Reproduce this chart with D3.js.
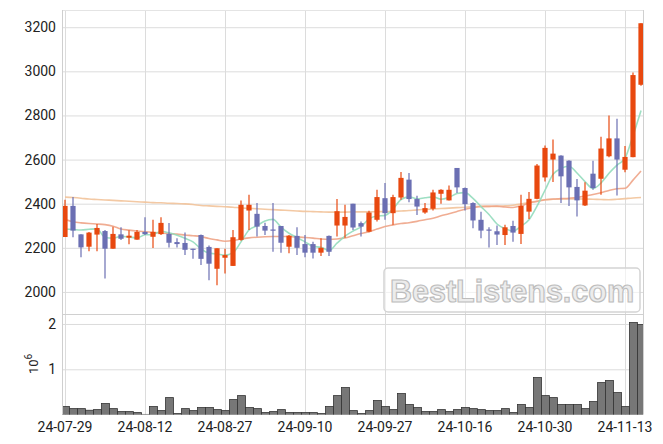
<!DOCTYPE html>
<html><head><meta charset="utf-8">
<script src="https://cdn.jsdelivr.net/npm/d3@7/dist/d3.min.js"></script>
<style>html,body{margin:0;padding:0;background:#fff;}svg{display:block;font-family:Roboto,"DejaVu Sans",sans-serif;}</style>
</head><body><svg id="c" width="663" height="444"></svg>
<script>
const dateTicks = ["24-07-29","24-08-12","24-08-27","24-09-10","24-09-27","24-10-16","24-10-30","24-11-13"];
const priceTicks = [2000,2200,2400,2600,2800,3000,3200];
const volTicks = [1,2];
const openP = [2249,2390,2261,2205,2260,2276,2196,2261,2246,2237,2272,2250,2262,2263,2226,2222,2196,2258,2204,2105,2155,2118,2236,2369,2354,2299,2283,2299,2205,2254,2217,2217,2178,2254,2301,2301,2400,2312,2273,2327,2425,2357,2428,2509,2421,2360,2377,2445,2415,2562,2471,2403,2327,2283,2275,2258,2299,2263,2364,2422,2519,2600,2618,2595,2476,2392,2536,2513,2615,2696,2554,2611,2939];
const highP = [2418,2430,2262,2272,2308,2281,2296,2293,2280,2281,2339,2327,2339,2312,2243,2269,2196,2260,2210,2198,2196,2281,2415,2441,2403,2314,2403,2299,2258,2293,2258,2228,2243,2256,2421,2395,2400,2319,2368,2463,2494,2440,2544,2539,2436,2403,2463,2466,2482,2562,2473,2406,2364,2293,2301,2304,2323,2441,2453,2580,2664,2691,2620,2597,2512,2497,2595,2703,2800,2785,2661,2995,3218];
const lowP = [2249,2248,2157,2184,2184,2061,2196,2236,2216,2237,2258,2199,2258,2202,2202,2167,2150,2122,2053,2030,2084,2118,2232,2281,2251,2258,2182,2178,2175,2167,2157,2152,2163,2163,2251,2246,2281,2251,2270,2319,2327,2304,2418,2407,2349,2354,2369,2400,2415,2448,2369,2289,2243,2202,2213,2213,2228,2217,2331,2420,2501,2498,2403,2390,2342,2390,2463,2441,2610,2437,2542,2611,2935];
const closeP = [2390,2278,2202,2269,2290,2196,2263,2241,2255,2272,2262,2272,2313,2223,2217,2191,2193,2150,2128,2198,2167,2248,2395,2395,2296,2278,2280,2223,2255,2200,2178,2178,2200,2182,2366,2340,2292,2296,2360,2430,2357,2430,2517,2421,2387,2380,2451,2463,2463,2474,2398,2324,2278,2280,2260,2293,2269,2390,2422,2573,2653,2627,2524,2474,2415,2459,2471,2650,2696,2600,2612,2983,3218];
const volume = [0.177,0.132,0.132,0.096,0.110,0.243,0.132,0.066,0.066,0.044,0.005,0.177,0.088,0.375,0.022,0.132,0.088,0.155,0.155,0.110,0.088,0.331,0.419,0.155,0.132,0.044,0.066,0.110,0.044,0.044,0.044,0.044,0.022,0.177,0.419,0.596,0.088,0.022,0.088,0.309,0.177,0.110,0.464,0.221,0.155,0.066,0.066,0.110,0.066,0.110,0.155,0.132,0.110,0.088,0.088,0.132,0.044,0.221,0.155,0.817,0.419,0.375,0.221,0.221,0.221,0.132,0.287,0.706,0.751,0.486,0.177,2.031,1.987];
const ma5 = [2285,2283,2281,2284,2286,2247,2244,2252,2249,2245,2259,2260,2275,2268,2257,2243,2227,2195,2176,2172,2167,2178,2227,2281,2300,2322,2329,2294,2266,2247,2227,2207,2202,2188,2221,2253,2276,2295,2331,2344,2347,2375,2419,2431,2422,2427,2431,2420,2429,2446,2450,2424,2387,2351,2308,2287,2276,2298,2327,2389,2461,2533,2560,2570,2539,2500,2469,2494,2538,2575,2606,2708,2822];
const ma20 = [2328,2318,2313,2310,2308,2305,2298,2285,2280,2276,2273,2270,2267,2264,2262,2258,2255,2251,2242,2236,2230,2233,2240,2245,2248,2250,2251,2251,2251,2249,2247,2244,2240,2238,2240,2245,2255,2265,2273,2285,2297,2304,2310,2314,2320,2327,2334,2345,2354,2365,2375,2382,2387,2388,2389,2385,2383,2390,2403,2410,2418,2421,2423,2425,2428,2435,2442,2450,2460,2468,2470,2507,2548];
const ma60 = [2430,2428,2425,2421,2419,2417,2415,2413,2411,2409,2407,2405,2404,2402,2401,2399,2396,2392,2390,2388,2386,2384,2381,2379,2377,2375,2373,2371,2369,2367,2365,2364,2363,2362,2362,2362,2363,2363,2363,2364,2364,2365,2367,2369,2372,2374,2376,2378,2380,2382,2384,2386,2388,2388,2388,2390,2393,2398,2405,2412,2418,2420,2421,2422,2422,2421,2420,2419,2418,2420,2423,2426,2428];

const svg = d3.select("#c");
const L = 62, R = 643, PT = 10, PB = 314, VT = 314, VB = 414.6;
const n = closeP.length;
const x = d3.scaleLinear().domain([-0.375, n - 1 + 0.25]).range([L, R]);
const y = d3.scaleLinear().domain([1900, 3278]).range([PB, PT]);
const yv = d3.scaleLinear().domain([0, 2.22e6]).range([VB, VT]);
const idx = d3.range(n);
const tickIdx = dateTicks.map((d, k) => k * 10);
const UP = "#e8480f", DOWN = "#6b6fb3";

svg.append("defs").append("clipPath").attr("id", "clipP")
  .append("rect").attr("x", L).attr("y", PT).attr("width", R - L).attr("height", PB - PT);
svg.select("defs").append("clipPath").attr("id", "clipV")
  .append("rect").attr("x", L).attr("y", VT).attr("width", R - L).attr("height", VB - VT);

const grid = svg.append("g").attr("stroke", "#dcdcdc").attr("stroke-width", 1);
// horizontal grid price
svg.append("g").attr("transform", `translate(${L},0)`)
  .call(d3.axisLeft(y).tickValues(priceTicks).tickSize(-(R - L)).tickFormat(""))
  .call(g => { g.select(".domain").remove(); g.selectAll("line").attr("stroke", "#dcdcdc"); });
svg.append("g").attr("transform", `translate(${L},0)`)
  .call(d3.axisLeft(yv).tickValues(volTicks.map(v => v * 1e6)).tickSize(-(R - L)).tickFormat(""))
  .call(g => { g.select(".domain").remove(); g.selectAll("line").attr("stroke", "#dcdcdc"); });
// vertical grid
svg.append("g").attr("transform", `translate(0,${VB})`)
  .call(d3.axisBottom(x).tickValues(tickIdx).tickSize(-(VB - PT)).tickFormat(""))
  .call(g => { g.select(".domain").remove(); g.selectAll("line").attr("stroke", "#dcdcdc"); });

// frame lines
svg.append("line").attr("x1", L).attr("x2", R).attr("y1", VT + 0.5).attr("y2", VT + 0.5).attr("stroke", "#d0d0d0");
svg.append("line").attr("x1", L).attr("x2", R).attr("y1", PT + 0.5).attr("y2", PT + 0.5).attr("stroke", "#e4e4e4");
svg.append("line").attr("x1", R + 0.5).attr("x2", R + 0.5).attr("y1", PT).attr("y2", VB).attr("stroke", "#d0d0d0");

// watermark
const wm = svg.append("g");
wm.append("rect").attr("x", 384).attr("y", 268).attr("width", 256).attr("height", 44).attr("rx", 4)
  .attr("fill", "#ffffff").attr("fill-opacity", 0.6).attr("stroke", "#d4d4d4").attr("stroke-width", 1.5);
wm.append("text").attr("x", 512).attr("y", 302).attr("text-anchor", "middle")
  .attr("font-family", "'Liberation Sans', Arial, sans-serif").attr("font-weight", "bold").attr("font-size", 32)
  .attr("textLength", 244).attr("lengthAdjust", "spacingAndGlyphs")
  .attr("fill", "#ececec").attr("stroke", "#bdbdbd").attr("stroke-width", 1.2).text("BestListens.com");

// moving averages
const lineGen = arr => d3.line().x((d, i) => x(i)).y(d => y(d)).curve(d3.curveMonotoneX)(arr);
const maG = svg.append("g").attr("clip-path", "url(#clipP)").attr("fill", "none");
maG.append("path").attr("d", lineGen(ma60)).attr("stroke", "#f2c39a").attr("stroke-width", 1.6).attr("opacity", 0.9);
maG.append("path").attr("d", lineGen(ma20)).attr("stroke", "#eea487").attr("stroke-width", 1.6).attr("opacity", 0.9);
maG.append("path").attr("d", lineGen(ma5)).attr("stroke", "#94dcbc").attr("stroke-width", 1.6).attr("opacity", 0.9);

// candles
const cg = svg.append("g").attr("clip-path", "url(#clipP)");
const c = cg.selectAll("g.c").data(idx).join("g").attr("class", "c");
c.append("line").attr("x1", i => x(i)).attr("x2", i => x(i))
  .attr("y1", i => y(highP[i])).attr("y2", i => y(lowP[i]))
  .attr("stroke", i => closeP[i] >= openP[i] ? UP : DOWN).attr("stroke-width", 1.2);
c.append("rect").attr("x", i => x(i) - 2.6).attr("width", 5.2)
  .attr("y", i => y(Math.max(openP[i], closeP[i])))
  .attr("height", i => Math.max(1.2, Math.abs(y(openP[i]) - y(closeP[i]))))
  .attr("fill", i => closeP[i] >= openP[i] ? UP : DOWN);

// volume
svg.append("g").attr("clip-path", "url(#clipV)").selectAll("rect").data(idx).join("rect")
  .attr("x", i => x(i) - 3.5).attr("width", 8)
  .attr("y", i => yv(volume[i] * 1e6)).attr("height", i => VB - yv(volume[i] * 1e6))
  .attr("fill", "#777777").attr("stroke", "#333333").attr("stroke-width", 0.8);

// axes
svg.append("line").attr("x1", L + 0.5).attr("x2", L + 0.5).attr("y1", PT).attr("y2", VB).attr("stroke", "#cfcfcf");
const lab = svg.append("g").attr("font-size", 14).attr("fill", "#222");
lab.selectAll("text.py").data(priceTicks).join("text").attr("class", "py")
  .attr("x", 56).attr("y", d => y(d) + 5).attr("text-anchor", "end").text(d => d);
lab.selectAll("text.vy").data(volTicks).join("text").attr("class", "vy")
  .attr("x", 56).attr("y", d => yv(d * 1e6) + 5).attr("text-anchor", "end").text(d => d);
lab.selectAll("text.xd").data(dateTicks).join("text").attr("class", "xd")
  .attr("x", (d, k) => x(tickIdx[k])).attr("y", 432).attr("text-anchor", "middle").text(d => d);
const ex = lab.append("text").attr("transform", "translate(38,374) rotate(-90)").attr("text-anchor", "start").attr("font-size", 13);
ex.append("tspan").text("10");
ex.append("tspan").attr("dy", -6).attr("font-size", 10).text("6");
</script></body></html>
